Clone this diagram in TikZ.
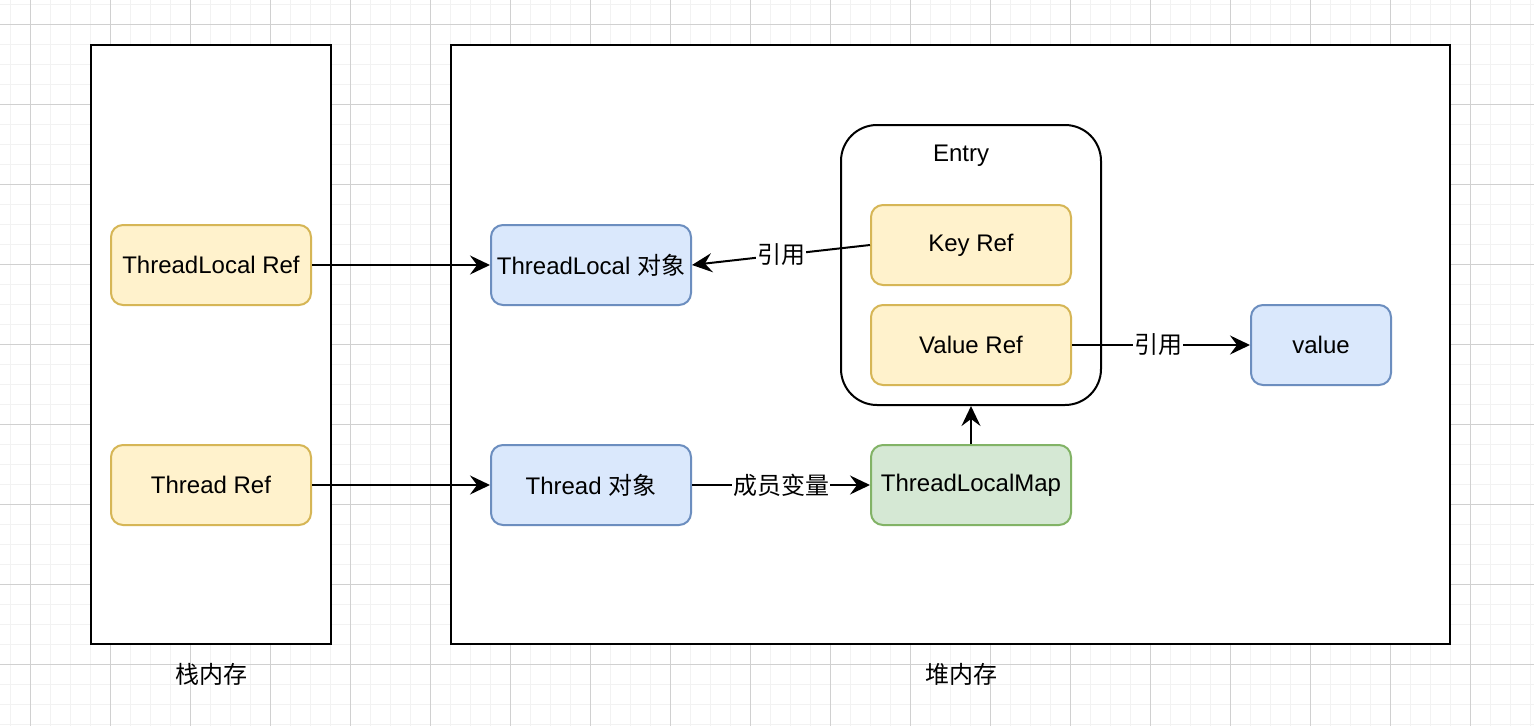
\documentclass[tikz,border=0pt]{standalone}
\usepackage{fontspec}
\setmainfont{Liberation Sans}
\newfontfamily\cjk{Noto Sans CJK SC}
\usetikzlibrary{arrows.meta}
\definecolor{yfill}{HTML}{FFF2CC}
\definecolor{ystroke}{HTML}{D6B656}
\definecolor{bfill}{HTML}{DAE8FC}
\definecolor{bstroke}{HTML}{6C8EBF}
\definecolor{gfill}{HTML}{D5E8D4}
\definecolor{gstroke}{HTML}{82B366}
\definecolor{gridminor}{HTML}{F2F2F2}
\definecolor{gridmajor}{HTML}{D0D0D0}
\begin{document}
\begin{tikzpicture}[x=1pt,y=-1pt,
  font=\fontsize{24}{28}\selectfont,
  box/.style={rounded corners=12pt, line width=2pt, minimum width=200pt, minimum height=80pt, inner sep=0pt},
  ybox/.style={box, fill=yfill, draw=ystroke},
  bbox/.style={box, fill=bfill, draw=bstroke},
  gbox/.style={box, fill=gfill, draw=gstroke},
  region/.style={draw=black, fill=white, line width=2pt, inner sep=0pt},
  arr/.style={line width=2pt, -{Stealth[length=20pt,width=19pt,inset=7pt]}},
  lbl/.style={fill=white, inner sep=1pt, text=black},
  txt/.style={inner sep=0pt}
]
\useasboundingbox (0,0) rectangle (1534,726);
\fill[white] (0,0) rectangle (1534,726);
% grid
\foreach \x in {10,30,...,1530} \draw[gridminor, line width=1pt] (\x,0) -- (\x,726);
\foreach \y in {4,24,...,724} \draw[gridminor, line width=1pt] (0,\y) -- (1534,\y);
\foreach \x in {30,110,...,1510} \draw[gridmajor, line width=1pt] (\x,0) -- (\x,726);
\foreach \y in {24,104,...,664} \draw[gridmajor, line width=1pt] (0,\y) -- (1534,\y);

% regions
\node[region, minimum width=240pt, minimum height=599pt] (stack) at (211,344.5) {};
\node[region, minimum width=999pt, minimum height=599pt] (heap) at (950.5,344.5) {};
\node[txt] (stacklbl) at (211,674) {\cjk 栈内存};
\node[txt] (heaplbl) at (961,674) {\cjk 堆内存};

% entry container
\node[draw=black, fill=white, line width=2pt, rounded corners=36pt, minimum width=260pt, minimum height=280pt, inner sep=0pt] (entry) at (971,265) {};
\node[txt] (entrylbl) at (961,156) {Entry};

% nodes
\node[ybox] (tlref) at (211,265) {ThreadLocal Ref};
\node[ybox] (tref) at (211,485) {Thread Ref};
\node[bbox] (tlobj) at (591,265) {ThreadLocal {\cjk 对象}};
\node[bbox] (tobj) at (591,485) {Thread {\cjk 对象}};
\node[ybox] (keyref) at (971,245) {Key Ref};
\node[ybox] (valref) at (971,345) {Value Ref};
\node[bbox, minimum width=140pt] (value) at (1321,345) {value};
\node[gbox] (tlmap) at (971,485) {ThreadLocalMap};

% edges
\draw[arr] (tlref.east) -- (tlobj.west);
\draw[arr] (tref.east) -- (tobj.west);
\draw[arr] (tobj.east) -- node[lbl] {\cjk 成员变量} (tlmap.west);
\draw[arr] (tlmap.north) -- (entry.south);
\draw[arr] (keyref.west) -- node[lbl] {\cjk 引用} (tlobj.east);
\draw[arr] (valref.east) -- node[lbl, xshift=-3pt] {\cjk 引用} (value.west);
\end{tikzpicture}
\end{document}
